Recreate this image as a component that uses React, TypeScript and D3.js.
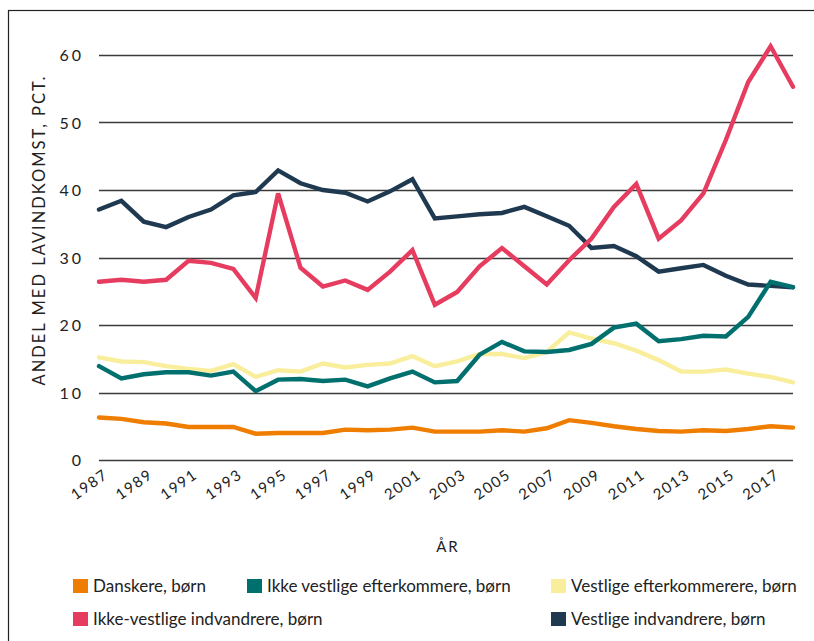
import { useEffect, useRef } from 'react';
import * as d3 from 'd3';

const years = d3.range(1987, 2019);

const danskere = [6.3, 6.1, 5.6, 5.4, 4.9, 4.9, 4.9, 3.9, 4.0, 4.0, 4.0, 4.5, 4.4, 4.5, 4.8, 4.2, 4.2, 4.2, 4.4, 4.2, 4.7, 5.9, 5.5, 5.0, 4.6, 4.3, 4.2, 4.4, 4.3, 4.6, 5.0, 4.8];
const ikkeVestligeEfterk = [13.9, 12.1, 12.7, 13.0, 13.0, 12.5, 13.1, 10.2, 11.9, 12.0, 11.7, 11.9, 10.9, 12.1, 13.1, 11.5, 11.7, 15.6, 17.5, 16.1, 16.0, 16.3, 17.2, 19.6, 20.2, 17.6, 17.9, 18.4, 18.3, 21.2, 26.4, 25.6];
const vestligeEfterk = [15.2, 14.6, 14.5, 13.9, 13.5, 13.2, 14.2, 12.3, 13.3, 13.1, 14.3, 13.7, 14.1, 14.3, 15.4, 13.9, 14.6, 15.7, 15.7, 15.1, 16.0, 18.9, 18.0, 17.3, 16.2, 14.8, 13.1, 13.1, 13.4, 12.8, 12.3, 11.5];
const ikkeVestligeIndv = [26.4, 26.7, 26.4, 26.7, 29.5, 29.2, 28.3, 24.0, 39.5, 28.5, 25.7, 26.6, 25.2, 27.9, 31.1, 23.0, 24.9, 28.7, 31.4, 28.7, 26.0, 29.6, 32.8, 37.5, 40.9, 32.8, 35.5, 39.5, 47.4, 56.0, 61.3, 55.3];
const vestligeIndv = [37.1, 38.4, 35.3, 34.5, 36.0, 37.1, 39.2, 39.7, 42.9, 41.0, 40.0, 39.6, 38.3, 39.8, 41.6, 35.8, 36.1, 36.4, 36.6, 37.5, 36.1, 34.7, 31.4, 31.7, 30.2, 27.9, 28.4, 28.9, 27.3, 26.0, 25.8, 25.6];

const yTicks = [0, 10, 20, 30, 40, 50, 60];
const xTickYears = d3.range(1987, 2019, 2);

// draw order (last on top)
const series = [
  { name: 'Vestlige indvandrere, børn', values: vestligeIndv, color: '#1f3a50' },
  { name: 'Danskere, børn', values: danskere, color: '#ef7d00' },
  { name: 'Vestlige efterkommerere, børn', values: vestligeEfterk, color: '#f8ee9c' },
  { name: 'Ikke vestlige efterkommere, børn', values: ikkeVestligeEfterk, color: '#00706f' },
  { name: 'Ikke-vestlige indvandrere, børn', values: ikkeVestligeIndv, color: '#e63c5f' },
];

const legendItems = [
  { name: 'Danskere, børn', color: '#ef7d00', col: 0, row: 0 },
  { name: 'Ikke vestlige efterkommere, børn', color: '#00706f', col: 1, row: 0 },
  { name: 'Vestlige efterkommerere, børn', color: '#f8ee9c', col: 2, row: 0 },
  { name: 'Ikke-vestlige indvandrere, børn', color: '#e63c5f', col: 0, row: 1 },
  { name: 'Vestlige indvandrere, børn', color: '#1f3a50', col: 2, row: 1 },
];

const W = 814;
const H = 641;
const font = 'Lato, "Open Sans", sans-serif';

const App = () => {
  const svgRef = useRef<SVGSVGElement>(null);

  useEffect(() => {
    if (!svgRef.current) return;
    const svg = d3.select(svgRef.current);
    svg.selectAll('*').remove();

    const x = d3.scaleLinear().domain([1987, 2018]).range([99, 793]);
    const y = d3.scaleLinear().domain([0, 60]).range([460, 55]);

    // frame
    svg.append('rect')
      .attr('x', 8.5)
      .attr('y', 10.5)
      .attr('width', 900)
      .attr('height', 700)
      .attr('fill', 'none')
      .attr('stroke', '#222')
      .attr('stroke-width', 1.2);

    // Y grid + labels
    const yAxis = svg.append('g');
    yAxis.selectAll('line')
      .data(yTicks)
      .join('line')
      .attr('x1', 99)
      .attr('x2', 793)
      .attr('y1', d => Math.round(y(d)) + 0.5)
      .attr('y2', d => Math.round(y(d)) + 0.5)
      .attr('stroke', '#3a3a3a')
      .attr('stroke-width', 1.3);
    yAxis.selectAll('text')
      .data(yTicks)
      .join('text')
      .attr('x', 84)
      .attr('y', d => y(d) + 6)
      .attr('text-anchor', 'end')
      .style('font-family', font)
      .style('font-size', '16px')
      .style('letter-spacing', '3px')
      .style('fill', '#222')
      .text(d => d);

    // X labels
    svg.append('g')
      .selectAll('text')
      .data(xTickYears)
      .join('text')
      .attr('transform', d => `translate(${x(d) + 10},${477}) rotate(-35)`)
      .attr('text-anchor', 'end')
      .style('font-family', font)
      .style('font-size', '15px')
      .style('letter-spacing', '1.5px')
      .style('fill', '#222')
      .text(d => d);

    // axis titles
    svg.append('text')
      .attr('transform', 'translate(45,230) rotate(-90)')
      .attr('text-anchor', 'middle')
      .style('font-family', font)
      .style('font-size', '16.5px')
      .style('letter-spacing', '2px')
      .style('fill', '#222')
      .text('ANDEL MED LAVINDKOMST, PCT.');

    svg.append('text')
      .attr('x', 448)
      .attr('y', 552)
      .attr('text-anchor', 'middle')
      .style('font-family', font)
      .style('font-size', '15px')
      .style('letter-spacing', '2px')
      .style('fill', '#222')
      .text('ÅR');

    // lines
    const line = d3.line<number>()
      .x((_, i) => x(years[i]))
      .y(d => y(d));

    svg.append('g')
      .selectAll('path')
      .data(series)
      .join('path')
      .attr('d', d => line(d.values))
      .attr('fill', 'none')
      .attr('stroke', d => d.color)
      .attr('stroke-width', 4.4)
      .attr('stroke-linejoin', 'miter')
      .attr('stroke-linecap', 'round');

    // legend
    const colX = [73, 247, 551];
    const rowY = [579, 612];
    const lg = svg.append('g')
      .selectAll('g')
      .data(legendItems)
      .join('g')
      .attr('transform', d => `translate(${colX[d.col]},${rowY[d.row]})`);
    lg.append('rect')
      .attr('width', 15)
      .attr('height', 14)
      .attr('fill', d => d.color);
    lg.append('text')
      .attr('x', 20)
      .attr('y', 13)
      .style('font-family', font)
      .style('font-size', '17px')
      .style('fill', '#222')
      .text(d => d.name);
  }, []);

  return (
    <div style={{ position: 'absolute', left: 0, top: 0, width: W, height: H, background: '#fff' }}>
      <svg ref={svgRef} width={W} height={H} />
    </div>
  );
};

export default App;
